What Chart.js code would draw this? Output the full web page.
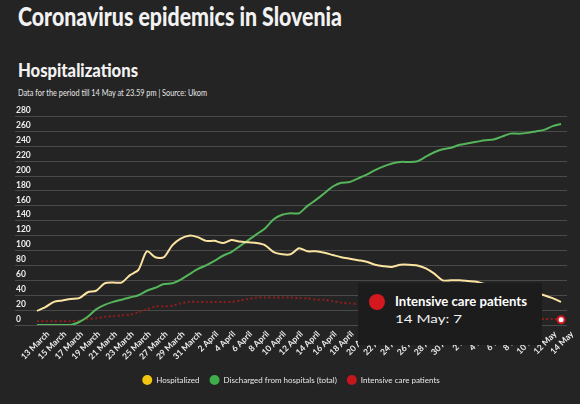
<!DOCTYPE html>
<html><head><meta charset="utf-8">
<script src="https://cdn.jsdelivr.net/npm/chart.js@4"></script>
<style>
html,body{margin:0;padding:0;background:#242424;}
#wrap{position:relative;width:580px;height:404px;overflow:hidden;background:#242424;font-family:Lato,sans-serif;color:#f2f2f2;}
.fit{position:absolute;white-space:nowrap;line-height:1;transform-origin:0 0;display:inline-block;}
#t1{left:18px;top:3px;font-size:26px;font-weight:900;}
#t2{left:18px;top:59.5px;font-size:19.5px;font-weight:900;}
#t3{left:18px;top:88.5px;font-size:8.5px;color:#e6e6e6;}
#cv{position:absolute;left:0;top:100px;}
#tip{position:absolute;left:358px;top:283px;width:184px;height:62px;background:#1c1c1c;}
#tipDot{position:absolute;left:11px;top:11px;width:16px;height:16px;border-radius:50%;background:#d4181f;}
#tipTitle{left:37px;top:12.6px;font-size:12.5px;font-weight:700;color:#fff;}
#tipBody{left:37px;top:29.7px;font-size:12px;color:#f2f2f2;}
</style></head>
<body><div id="wrap">
<div class="fit" id="t1" data-w="324">Coronavirus epidemics in Slovenia</div>
<div class="fit" id="t2" data-w="120">Hospitalizations</div>
<div class="fit" id="t3" data-w="189">Data for the period till 14 May at 23.59 pm | Source: Ukom</div>
<canvas id="cv" width="580" height="304"></canvas>
<div id="tip"><div id="tipDot"></div><div class="fit" id="tipTitle" data-w="132"></div><div class="fit" id="tipBody" data-w="67"></div></div>
</div>
<script>
const categories = ["13 March","14 March","15 March","16 March","17 March","18 March","19 March","20 March","21 March","22 March",
"23 March","24 March","25 March","26 March","27 March","28 March","29 March","30 March","31 March","1 April",
"2 April","3 April","4 April","5 April","6 April","7 April","8 April","9 April","10 April","11 April",
"12 April","13 April","14 April","15 April","16 April","17 April","18 April","19 April","20 April","21 April",
"22 April","23 April","24 April","25 April","26 April","27 April","28 April","29 April","30 April","1 May",
"2 May","3 May","4 May","5 May","6 May","7 May","8 May","9 May","10 May","11 May",
"12 May","13 May","14 May"];
const seriesNames = ["Hospitalized","Discharged from hospitals (total)","Intensive care patients"];
const hospitalized = [19,24,31,33,35,36,44,46,56,57, 57,67,74,99,91,91,107,116,120,118, 113,113,110,114,112,111,110,107,98,95,
 95,103,99,99,97,94,91,89,87,85, 81,79,78,81,81,80,76,69,60,60, 60,59,58,55,54,52,50,47,45,43, 40,36,31];
const discharged = [0,0,0,0,0,4,11,21,27,31, 34,37,40,46,50,55,56,61,68,75, 80,86,93,98,106,114,122,130,142,148,
 150,150,160,168,177,186,191,192,197,202, 208,213,217,219,219,220,226,232,236,238, 242,244,246,248,249,253,257,257,258,260, 262,267,270];
const intensiveCare = [5,5,5,5,5,6,8,9,11,12, 13,14,17,21,25,25,26,29,31,31, 31,31,31,31,33,35,37,37,37,37,
 37,36,36,34,34,32,30,29,28,27, 26,25,24,22,21,19,18,17,16,15, 14,13,12,11,11,10,9,9,8,8, 8,8,7];
const yMin = 0, yMax = 280, yStep = 20;
const labelEvery = 2;
const tipSeries = 2, tipIndex = categories.length - 1;

document.getElementById('tipTitle').textContent = seriesNames[tipSeries];
document.getElementById('tipBody').textContent = categories[tipIndex] + ': ' + intensiveCare[tipIndex];

function fitAll(){
  document.querySelectorAll('.fit').forEach(el=>{
    el.style.transform='none';
    const w = el.getBoundingClientRect().width;
    const t = parseFloat(el.dataset.w);
    if (w>0 && t>0) el.style.transform = 'scaleX(' + (t/w) + ')';
  });
}
fitAll();

const toXY = arr => arr.map((v,i)=>({x:i,y:v}));
Chart.defaults.font.family = 'Lato';

const chart = new Chart(document.getElementById('cv'), {
  type:'line',
  data:{datasets:[
    {label:seriesNames[0], data:toXY(hospitalized), borderColor:'#fbe3a1', backgroundColor:'#f2c511', borderWidth:2, pointRadius:0, tension:0.25},
    {label:seriesNames[1], data:toXY(discharged), borderColor:'#55b55a', backgroundColor:'#3dae49', borderWidth:2, pointRadius:0, tension:0.25},
    {label:seriesNames[2], data:toXY(intensiveCare), borderColor:'#921d1d', backgroundColor:'#c4161c', borderWidth:2, borderDash:[2,2.5], pointRadius:0, tension:0.25,
     pointHoverRadius:3.5, pointHoverBackgroundColor:'#ffffff', pointHoverBorderColor:'#d4181f', pointHoverBorderWidth:2}
  ]},
  options:{
    responsive:false, animation:false, events:[],
    layout:{padding:{left:15,right:13,top:16.5,bottom:10}},
    scales:{
      x:{type:'linear', bounds:'data', min:-2.6, max:categories.length-1+0.7,
        grid:{display:false, drawTicks:false}, border:{display:false},
        afterBuildTicks:s=>{ s.ticks = categories.map((c,i)=>({value:i})).filter(t=>t.value%labelEvery===0); },
        afterFit:s=>{ s.height = 41; },
        ticks:{autoSkip:false, maxRotation:45, minRotation:45, labelOffset:11, padding:4, color:'#ececec',
          font:{size:8.5, weight:'bold'}, callback:v=>categories[v]}
      },
      y:{min:yMin, max:yMax, afterFit:s=>{ s.width = 0; },
        grid:{color:'#4a4a4a', drawTicks:false, lineWidth:1}, border:{display:false},
        ticks:{stepSize:yStep, mirror:true, padding:1, labelOffset:-6, color:'#ececec', font:{size:8.5, weight:'bold'}}
      }
    },
    plugins:{
      tooltip:{enabled:false},
      legend:{position:'bottom',
        labels:{usePointStyle:true, pointStyle:'circle', boxHeight:7, pointStyleWidth:10, padding:10, color:'#e8e8e8',
          font:{size:8},
          generateLabels:(c)=>Chart.defaults.plugins.legend.labels.generateLabels(c).map(l=>Object.assign(l,{strokeStyle:l.fillStyle, lineWidth:0, lineDash:[]}))
        }
      }
    }
  }
});
chart.setActiveElements([{datasetIndex:tipSeries, index:tipIndex}]);
chart.update();
</script>
</body></html>
